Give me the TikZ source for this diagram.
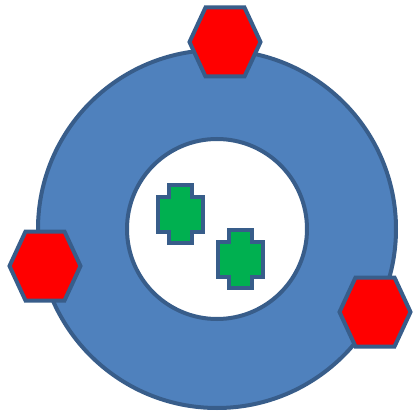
\documentclass[tikz,border=0pt]{standalone}
\usepackage{tikz}

\definecolor{ringblue}{HTML}{4F81BD}
\definecolor{edgeblue}{HTML}{385D8A}
\definecolor{hexred}{HTML}{FF0000}
\definecolor{crossgreen}{HTML}{00B050}

\tikzset{
    outline/.style={draw=edgeblue, line width=4pt, line join=miter},
    hexa/.pic={
        \filldraw[outline, fill=hexred] (-35.5,0) -- (-19.5,-34.5) -- (19.5,-34.5)
            -- (35.5,0) -- (19.5,34.5) -- (-19.5,34.5) -- cycle;
    },
    plusmark/.pic={
        \filldraw[outline, fill=crossgreen] (-11.5,-29) -- (11.5,-29) -- (11.5,-17)
            -- (22.5,-17) -- (22.5,18) -- (11.5,18) -- (11.5,29) -- (-11.5,29)
            -- (-11.5,18) -- (-22.5,18) -- (-22.5,-17) -- (-11.5,-17) -- cycle;
    }
}

\begin{document}
\begin{tikzpicture}[x=1pt, y=-1pt]
        \useasboundingbox (0,0) rectangle (413,412);
        \coordinate (C) at (217,229);
        % ring
        \filldraw[outline, fill=ringblue, even odd rule]
            (C) circle (179) (C) circle (90);
        % hexagons round the ring
        \pic at (225,42) {hexa};
        \pic at (45,266) {hexa};
        \pic at (375,312) {hexa};
        % crosses in the hole
        \pic at (180.5,214) {plusmark};
        \pic at (240.5,259) {plusmark};
    \end{tikzpicture}
\end{document}
